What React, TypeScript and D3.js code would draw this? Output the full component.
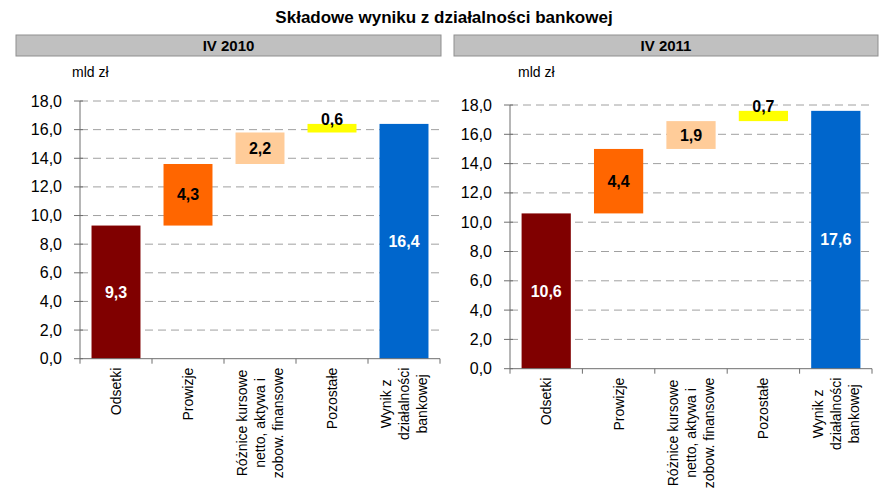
import React from "react";
import * as d3 from "d3";

// kategorie (wiersze etykiet osi X)
const categories = [
  ["Odsetki"],
  ["Prowizje"],
  ["Różnice kursowe", "netto, aktywa i", "zobow. finansowe"],
  ["Pozostałe"],
  ["Wynik z", "działalności", "bankowej"],
];
const values2010 = [9.3, 4.3, 2.2, 0.6, 16.4];
const values2011 = [10.6, 4.4, 1.9, 0.7, 17.6];
const yTicks = [0, 2, 4, 6, 8, 10, 12, 14, 16, 18];

const colors = ["#800000", "#FF6600", "#FFCC99", "#FFFF00", "#0066CC"];
const labelColors = ["#fff", "#000", "#000", "#000", "#fff"];
const FONT = "Arial, 'Liberation Sans', sans-serif";

let ctx: CanvasRenderingContext2D | null = null;
const measure = (s: string, font: string) => {
  if (!ctx) ctx = document.createElement("canvas").getContext("2d");
  if (!ctx) return s.length * 7;
  ctx.font = font;
  return ctx.measureText(s).width;
};

const fmt = (v: number) => d3.format(".1f")(v).replace(".", ",");

type PanelProps = {
  id: string;
  period: string;
  values: number[];
  header: [number, number];
  plot: { left: number; right: number; top: number; bottom: number };
  unitX: number;
  clipBottom: number;
};

const Panel = ({ id, period, values, header, plot, unitX, clipBottom }: PanelProps) => {
  const x = d3.scaleBand<number>()
    .domain(d3.range(categories.length))
    .range([plot.left, plot.right])
    .paddingInner(0)
    .paddingOuter(0);
  const y = d3.scaleLinear().domain([0, 18]).range([plot.bottom, plot.top]);
  const barW = x.bandwidth() * 0.68;

  // waterfall: kolejne składowe narastająco, ostatni słupek od zera
  const bars = values.map((v, i) => {
    const last = i === values.length - 1;
    const base = last ? 0 : d3.sum(values.slice(0, i));
    return { v, y0: base, y1: base + v, i };
  });

  const labelFont = `14px ${FONT}`;

  return (
    <g>
      <defs>
        <clipPath id={`clip-${id}`}>
          <rect x={header[0]} y={0} width={header[1] - header[0]} height={clipBottom} />
        </clipPath>
      </defs>
      <rect x={header[0]} y={35} width={header[1] - header[0]} height={21}
        fill="#C0C0C0" stroke="#8f8f8f" strokeWidth={1} />
      <text x={(header[0] + header[1]) / 2} y={51} textAnchor="middle"
        fontSize={15} fontWeight="bold" fontFamily={FONT}>{period}</text>
      <text x={unitX} y={77} fontSize={14} fontFamily={FONT}>mld zł</text>

      {/* siatka */}
      {yTicks.filter((t) => t > 0).map((t) => (
        <line key={t} x1={plot.left} x2={plot.right} y1={y(t)} y2={y(t)}
          stroke="#a0a0a0" strokeDasharray="8,5" />
      ))}

      {bars.map((b) => (
        <rect key={b.i} x={x(b.i)! + (x.bandwidth() - barW) / 2} y={y(b.y1)}
          width={barW} height={y(b.y0) - y(b.y1)} fill={colors[b.i]} />
      ))}

      {/* oś Y */}
      <line x1={plot.left} x2={plot.left} y1={y(18)} y2={y(0)} stroke="#6e6e6e" />
      {yTicks.map((t) => (
        <g key={t}>
          <line x1={plot.left - 6} x2={plot.left + 3} y1={y(t)} y2={y(t)} stroke="#6e6e6e" />
          <text x={plot.left - 18} y={y(t)} textAnchor="end" dominantBaseline="central"
            fontSize={16} fontFamily={FONT}>{fmt(t)}</text>
        </g>
      ))}

      {/* oś X */}
      <line x1={plot.left} x2={plot.right} y1={y(0)} y2={y(0)} stroke="#6e6e6e" />
      {d3.range(categories.length + 1).map((i) => {
        const xx = plot.left + i * x.step();
        return <line key={i} x1={xx} x2={xx} y1={y(0)} y2={y(0) + 5} stroke="#6e6e6e" />;
      })}

      {/* etykiety wartości */}
      {bars.map((b) => {
        const cx = x(b.i)! + x.bandwidth() / 2;
        const h = y(b.y0) - y(b.y1);
        const above = h < 16;
        return (
          <text key={b.i} x={cx} y={above ? y(b.y1) + 1 : (y(b.y0) + y(b.y1)) / 2}
            textAnchor="middle" dominantBaseline={above ? "alphabetic" : "central"}
            fontSize={16} fontWeight="bold" fontFamily={FONT}
            fill={labelColors[b.i]}>{fmt(b.v)}</text>
        );
      })}

      {/* etykiety kategorii, obrócone */}
      <g clipPath={`url(#clip-${id})`}>
        {categories.map((lines, i) => {
          const cx = x(i)! + x.bandwidth() / 2;
          const maxW = d3.max(lines, (l) => measure(l, labelFont)) ?? 0;
          const cy = y(0) + 9 + maxW / 2;
          return (
            <text key={i} transform={`translate(${cx},${cy}) rotate(-90)`}
              textAnchor="middle" fontSize={14} fontFamily={FONT}>
              {lines.map((l, k) => (
                <tspan key={k} x={0} y={(k - (lines.length - 1) / 2) * 18} dy="0.35em">{l}</tspan>
              ))}
            </text>
          );
        })}
      </g>
    </g>
  );
};

export default function App() {
  return (
    <svg width={885} height={488} style={{ position: "absolute", left: 0, top: 0 }}>
      <rect width={885} height={488} fill="#fff" />
      <text x={444} y={23} textAnchor="middle" fontSize={17} fontWeight="bold"
        fontFamily={FONT}>Składowe wyniku z działalności bankowej</text>
      <Panel id="a" period="IV 2010" values={values2010} header={[16, 441]}
        plot={{ left: 80, right: 440, top: 101, bottom: 358.7 }} unitX={72} clipBottom={481} />
      <Panel id="b" period="IV 2011" values={values2011} header={[454, 878]}
        plot={{ left: 510, right: 872, top: 105, bottom: 368.7 }} unitX={518} clipBottom={488} />
    </svg>
  );
}
